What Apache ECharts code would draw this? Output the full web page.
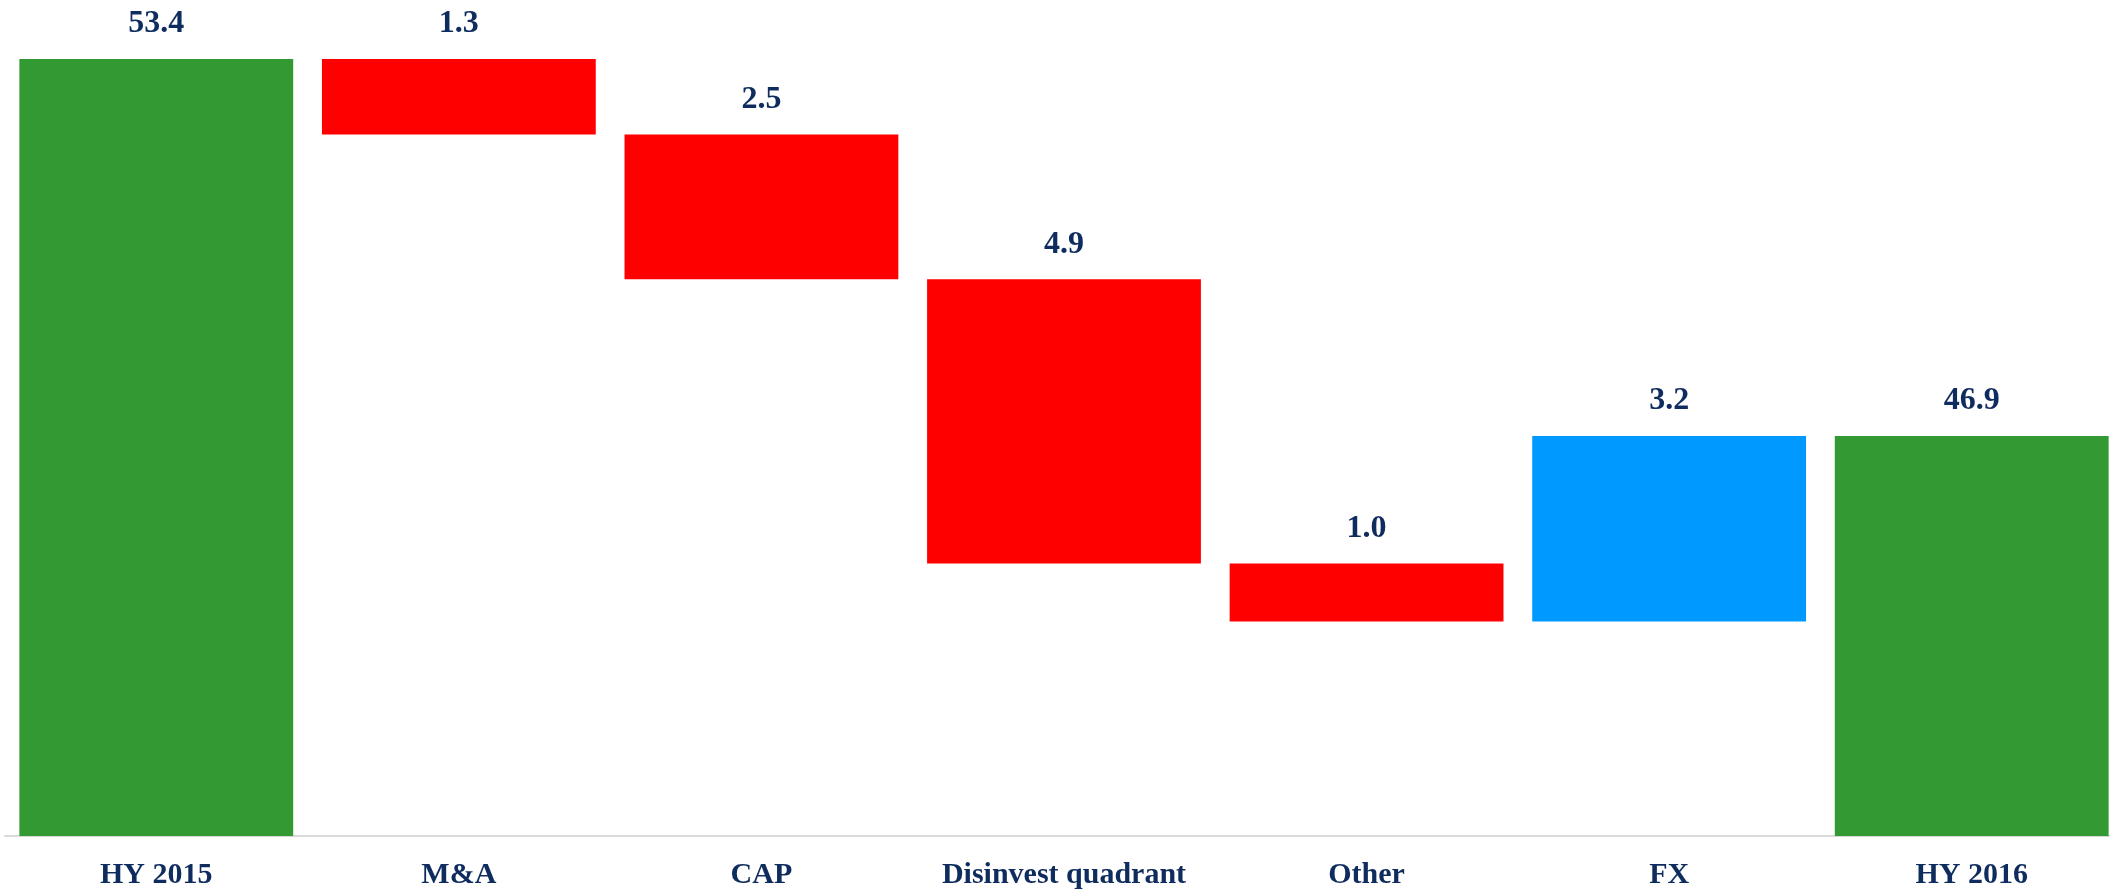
<!DOCTYPE html>
<html>
<head>
<meta charset="utf-8">
<script src="https://cdn.jsdelivr.net/npm/echarts@6/dist/echarts.min.js"></script>
<style>
  html, body { margin: 0; padding: 0; background: #fff; overflow: hidden; }
  #chart1 { width: 2123px; height: 894px; }
</style>
</head>
<body>
<div id="chart1"></div>
<script>
const categories = ['HY 2015', 'M&A', 'CAP', 'Disinvest quadrant', 'Other', 'FX', 'HY 2016'];
const amounts = [53.4, 1.3, 2.5, 4.9, 1.0, 3.2, 46.9];
const kinds = ['total', 'down', 'down', 'down', 'down', 'up', 'total'];

const colors = { total: '#339933', down: '#ff0000', up: '#0099ff' };

// base invisible + partie visible pour le waterfall
let running = 0;
const baseData = [];
const barData = [];
amounts.forEach((v, i) => {
    const k = kinds[i];
    if (k === 'total') {
        baseData.push(0);
        running = v;
    } else if (k === 'down') {
        running = running - v;
        baseData.push(running);
    } else {
        baseData.push(running);
        running = running + v;
    }
    barData.push({ value: v, itemStyle: { color: colors[k] } });
});

const chart = echarts.init(document.getElementById('chart1'));
const labelColor = '#0f2c5e';
const serif = '"Liberation Serif", "DejaVu Serif", serif';

chart.setOption({
    animation: false,
    grid: { left: 5, right: 0, top: 59, bottom: 58, containLabel: false },
    xAxis: {
        type: 'category',
        data: categories,
        axisLine: { lineStyle: { color: '#d9d9d9', width: 2 } },
        axisTick: { show: false },
        axisLabel: {
            interval: 0,
            color: labelColor,
            fontFamily: serif,
            fontWeight: 'bold',
            fontSize: 30,
            margin: 24
        }
    },
    yAxis: {
        type: 'value',
        min: 40,
        max: 53.4,
        show: false
    },
    series: [
        {
            type: 'bar',
            stack: 'wf',
            data: baseData,
            itemStyle: { color: 'transparent' },
            silent: true
        },
        {
            type: 'bar',
            stack: 'wf',
            data: barData,
            barCategoryGap: '9.5%',
            label: {
                show: true,
                position: 'top',
                distance: 19,
                color: labelColor,
                fontFamily: serif,
                fontWeight: 'bold',
                fontSize: 32,
                formatter: p => p.value.toFixed(1)
            }
        }
    ]
});
</script>
</body>
</html>
